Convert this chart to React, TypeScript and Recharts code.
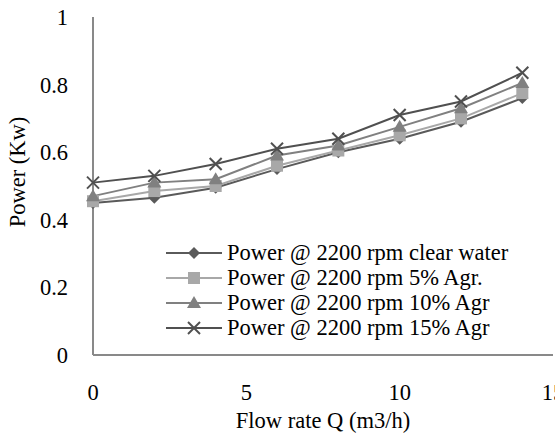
import React from "react";
import { LineChart, Line, XAxis, YAxis, Legend } from "recharts";

const flowRate = [0, 2, 4, 6, 8, 10, 12, 14];
const clearWater = [0.45, 0.465, 0.495, 0.55, 0.6, 0.64, 0.69, 0.76];
const agr5 = [0.455, 0.485, 0.5, 0.56, 0.605, 0.65, 0.7, 0.775];
const agr10 = [0.47, 0.51, 0.52, 0.59, 0.62, 0.675, 0.73, 0.805];
const agr15 = [0.51, 0.53, 0.565, 0.61, 0.64, 0.71, 0.75, 0.835];
const xTicks = [0, 5, 10, 15];
const yTicks = [0, 0.2, 0.4, 0.6, 0.8, 1];

const data = flowRate.map((q, i) => ({
  q,
  clear: clearWater[i],
  a5: agr5[i],
  a10: agr10[i],
  a15: agr15[i],
}));

const FONT = "'Liberation Serif', 'Times New Roman', serif";
const FS = 22.5;
const AXIS = "#898989";

type Kind = "diamond" | "square" | "triangle" | "cross";

const series: { key: string; name: string; color: string; kind: Kind }[] = [
  { key: "clear", name: "Power @ 2200 rpm clear water", color: "#5a5a5a", kind: "diamond" },
  { key: "a5", name: "Power @ 2200 rpm 5% Agr.", color: "#a8a8a8", kind: "square" },
  { key: "a10", name: "Power @ 2200 rpm 10% Agr", color: "#808080", kind: "triangle" },
  { key: "a15", name: "Power @ 2200 rpm 15% Agr", color: "#505050", kind: "cross" },
];

function Marker({ cx, cy, kind, color }: { cx: number; cy: number; kind: Kind; color: string }) {
  if (cx == null || cy == null) return null;
  switch (kind) {
    case "diamond":
      return <polygon points={`${cx},${cy - 6} ${cx + 6},${cy} ${cx},${cy + 6} ${cx - 6},${cy}`} fill={color} />;
    case "square":
      return <rect x={cx - 6} y={cy - 6} width={12} height={12} fill={color} />;
    case "triangle":
      return <polygon points={`${cx},${cy - 7} ${cx + 7},${cy + 5} ${cx - 7},${cy + 5}`} fill={color} />;
    default:
      return (
        <g stroke={color} strokeWidth={2}>
          <line x1={cx - 6} y1={cy - 6} x2={cx + 6} y2={cy + 6} />
          <line x1={cx - 6} y1={cy + 6} x2={cx + 6} y2={cy - 6} />
        </g>
      );
  }
}

const LegendBox = () => (
  <div style={{ fontFamily: FONT, fontSize: FS, color: "#000", lineHeight: 1 }}>
    {series.map((s) => (
      <div key={s.key} style={{ display: "flex", alignItems: "center", height: 24.8 }}>
        <svg width={56} height={16} style={{ marginRight: 5 }}>
          <line x1={0} y1={8} x2={56} y2={8} stroke={s.color} strokeWidth={2} />
          <Marker cx={28} cy={8} kind={s.kind} color={s.color} />
        </svg>
        <span style={{ whiteSpace: "nowrap" }}>{s.name}</span>
      </div>
    ))}
  </div>
);

export default function App() {
  return (
    <div style={{ position: "absolute", left: 0, top: 0, width: 555, height: 434, background: "#fff" }}>
      <LineChart
        width={555}
        height={434}
        data={data}
        margin={{ top: 17, right: 2, bottom: 0, left: 0 }}
      >
        <XAxis
          dataKey="q"
          type="number"
          domain={[0, 15]}
          ticks={xTicks}
          interval={0}
          height={79}
          tickLine={false}
          tickSize={0}
          tickMargin={29}
          stroke={AXIS}
          strokeWidth={2}
          tick={{ fill: "#000", fontFamily: FONT, fontSize: FS }}
          label={({ viewBox }: any) => (
            <text
              x={viewBox.x + viewBox.width / 2}
              y={viewBox.y + 73}
              textAnchor="middle"
              fontFamily={FONT}
              fontSize={FS}
              fill="#000"
            >
              Flow rate Q (m3/h)
            </text>
          )}
        />
        <YAxis
          type="number"
          domain={[0, 1]}
          ticks={yTicks}
          interval={0}
          width={93}
          tickLine={false}
          tickSize={0}
          tickMargin={25}
          stroke={AXIS}
          strokeWidth={2}
          tick={{ fill: "#000", fontFamily: FONT, fontSize: FS }}
          label={({ viewBox }: any) => (
            <text
              x={17}
              y={viewBox.y + 155}
              transform={`rotate(-90 17 ${viewBox.y + 155})`}
              textAnchor="middle"
              dominantBaseline="central"
              fontFamily={FONT}
              fontSize={FS}
              fill="#000"
            >
              Power (Kw)
            </text>
          )}
        />
        <Legend
          layout="vertical"
          align="center"
          verticalAlign="middle"
          content={<LegendBox />}
          wrapperStyle={{ position: "absolute", left: 166, top: 241, width: 380 }}
        />
        {series.map((s) => (
          <Line
            key={s.key}
            dataKey={s.key}
            name={s.name}
            stroke={s.color}
            strokeWidth={2}
            isAnimationActive={false}
            dot={(p: any) => <Marker key={`${s.key}-${p.index}`} cx={p.cx} cy={p.cy} kind={s.kind} color={s.color} />}
            activeDot={false}
          />
        ))}
      </LineChart>
    </div>
  );
}
